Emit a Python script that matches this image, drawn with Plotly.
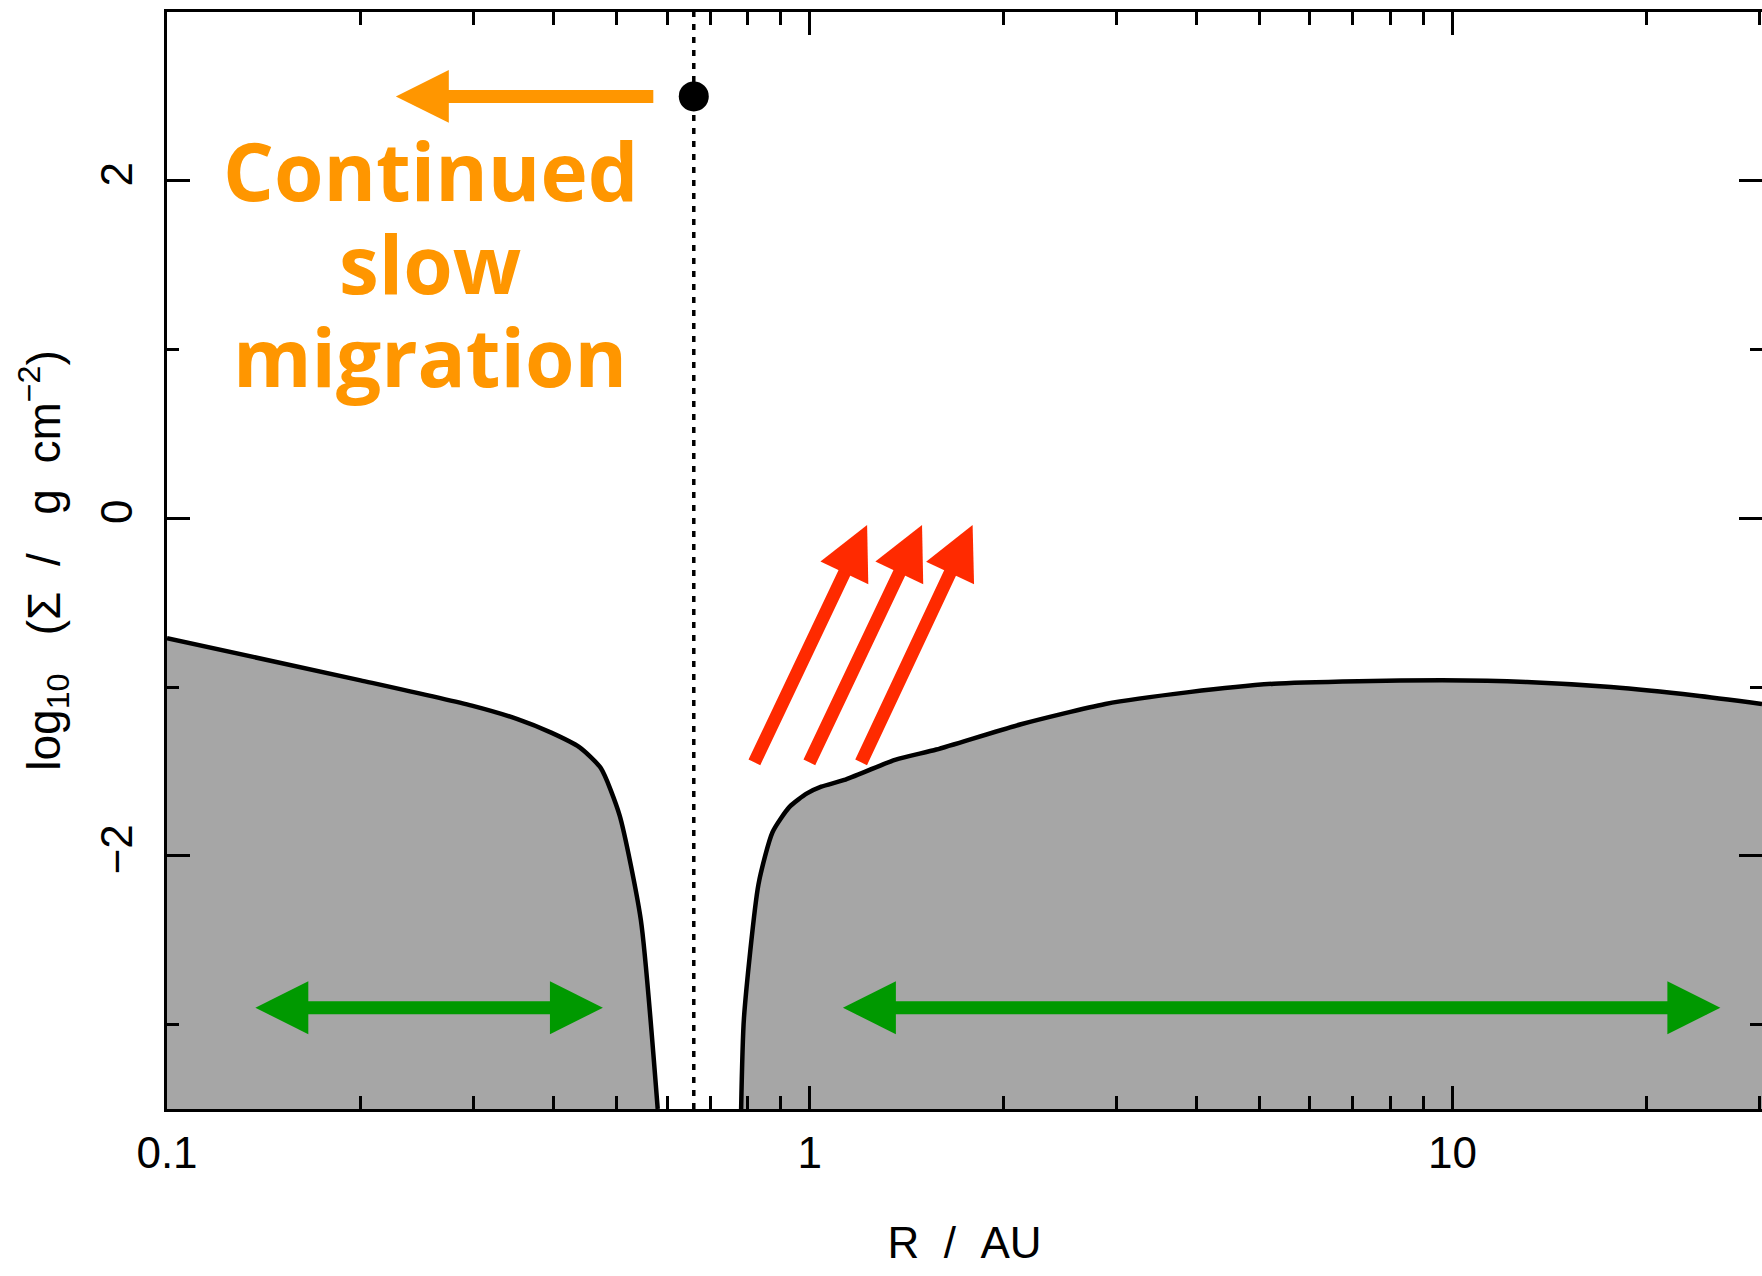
import numpy as np
import plotly.graph_objects as go

# Gas surface density profile, log10(Sigma / g cm^-2), inside and outside the gap
r_inner = [0.1, 0.2, 0.298, 0.351, 0.396, 0.438, 0.473, 0.506, 0.546, 0.58]
sigma_inner = [-0.71, -0.96, -1.11, -1.19, -1.27, -1.356, -1.48, -1.76, -2.38, -3.5]

r_outer = [0.782, 0.79, 0.832, 0.875, 0.93, 0.99, 1.042, 1.132, 1.361, 1.574,
           2.131, 2.883, 3.89, 5.27, 7.13, 9.63, 13.05, 17.63, 23.86, 30.3]
sigma_outer = [-3.5, -2.96, -2.17, -1.86, -1.71, -1.63, -1.59, -1.55, -1.43, -1.37,
               -1.22, -1.10, -1.03, -0.98, -0.965, -0.96, -0.97, -1.00, -1.05, -1.10]

# Planet position
planet_r = 0.66
planet_y = 2.5

# Migration arrow (tail -> head)
migration_r = [0.574, 0.227]
migration_y = 2.5

# Gap-opening arrows
gap_tail_r = [0.818, 0.996, 1.199]
gap_head_r = [1.228, 1.495, 1.792]
gap_tail_y = -1.455
gap_head_y = -0.04

# Viscous spreading arrows (double headed)
spread_left_r = [0.1365, 1.12]
spread_right_r = [0.4766, 26.1]
spread_y = -2.9

# Axes
x_range = [0.1, 30.3]
y_range = [-3.5, 3.0]
x_major = [0.1, 1, 10]
x_major_text = ["0.1", "1", "10"]
x_minor = [0.2, 0.3, 0.4, 0.5, 0.6, 0.7, 0.8, 0.9, 2, 3, 4, 5, 6, 7, 8, 9, 20, 30]
y_major = [-2, 0, 2]
y_major_text = ["\u22122", "0", "2"]
y_minor = [-3, -1, 1]

FILL = "#a6a6a6"
ORANGE = "#ff9600"
RED = "#ff2a00"
GREEN = "#009900"
FONT = "Liberation Sans, Arial, Helvetica, sans-serif"

fig = go.Figure()

# shaded disc regions: an invisible floor, then the profile filled down to it
for rs, ss in ((r_inner, sigma_inner), (r_outer, sigma_outer)):
    fig.add_trace(go.Scatter(x=[rs[0], rs[-1]], y=[y_range[0], y_range[0]],
                             mode="lines", line=dict(width=0, color=FILL),
                             hoverinfo="skip", showlegend=False))
    fig.add_trace(go.Scatter(x=rs, y=ss, mode="lines", fill="tonexty",
                             fillcolor=FILL,
                             line=dict(color="black", width=4.5,
                                       shape="spline", smoothing=0.6),
                             showlegend=False))

# planet orbit marker
fig.add_trace(go.Scatter(x=[planet_r, planet_r], y=y_range, mode="lines",
                         line=dict(color="black", width=3.5, dash="6px,7px"),
                         showlegend=False))
fig.add_trace(go.Scatter(x=[planet_r], y=[planet_y], mode="markers",
                         marker=dict(color="black", size=30),
                         showlegend=False))

annotations = []


def arrow(x_tail, y_tail, x_head, y_head, color, both=False):
    a = dict(xref="x", yref="y", axref="x", ayref="y",
             x=np.log10(x_head), y=y_head, ax=np.log10(x_tail), ay=y_tail,
             text="", showarrow=True, arrowhead=2, arrowsize=0.815,
             arrowwidth=13, arrowcolor=color, standoff=0)
    if both:
        a.update(arrowside="end+start", startarrowhead=2,
                 startarrowsize=0.815, startstandoff=0)
    annotations.append(a)


arrow(migration_r[0], migration_y, migration_r[1], migration_y, ORANGE)
for t, h in zip(gap_tail_r, gap_head_r):
    arrow(t, gap_tail_y, h, gap_head_y, RED)
for a, b in zip(spread_left_r, spread_right_r):
    arrow(a, spread_y, b, spread_y, GREEN, both=True)

# label for the slow migration, one line per box so the leading stays tight
label_lines = ["Continued", "slow", "migration"]
label_y = [0.8046, 0.7198, 0.635]
for txt, yy in zip(label_lines, label_y):
    annotations.append(dict(xref="paper", yref="paper", x=0.1649, y=yy,
                            xanchor="center", yanchor="bottom",
                            height=92, valign="bottom", text=txt,
                            showarrow=False,
                            font=dict(family="Open Sans", size=80,
                                      color=ORANGE, weight="bold")))

axis_common = dict(
    showline=True, linecolor="black", linewidth=3, mirror="allticks",
    ticks="inside", ticklen=23, tickwidth=3, tickcolor="black",
    showgrid=False, zeroline=False,
    tickfont=dict(family=FONT, size=44, color="black"),
)

fig.update_xaxes(
    type="log", range=[np.log10(x_range[0]), np.log10(x_range[1])],
    tickmode="array", tickvals=x_major, ticktext=x_major_text,
    minor=dict(tickmode="array", tickvals=x_minor, ticks="inside",
               ticklen=13, tickwidth=3, tickcolor="black", showgrid=False),
    ticklabelstandoff=3,
    title=dict(text="R\u00a0\u00a0/\u00a0\u00a0AU", standoff=52,
               font=dict(family=FONT, size=44, color="black")),
    **axis_common,
)
fig.update_yaxes(
    range=y_range, tickmode="array", tickvals=y_major, ticktext=y_major_text,
    tickangle=-90,
    minor=dict(tickmode="array", tickvals=y_minor, ticks="inside",
               ticklen=12, tickwidth=3, tickcolor="black", showgrid=False),
    ticklabelstandoff=14,
    title=dict(text="log<sub>10</sub>\u00a0\u00a0\u00a0(\u03a3\u00a0\u00a0/"
                    "\u00a0\u00a0\u00a0g\u00a0\u00a0cm<sup>\u22122</sup>)",
               standoff=18, font=dict(family=FONT, size=46, color="black")),
    **axis_common,
)

fig.update_layout(
    width=1762, height=1276,
    margin=dict(l=167, r=0, t=12, b=167, autoexpand=False),
    paper_bgcolor="white", plot_bgcolor="white",
    annotations=annotations,
    showlegend=False,
)

fig.write_html("out.html")
